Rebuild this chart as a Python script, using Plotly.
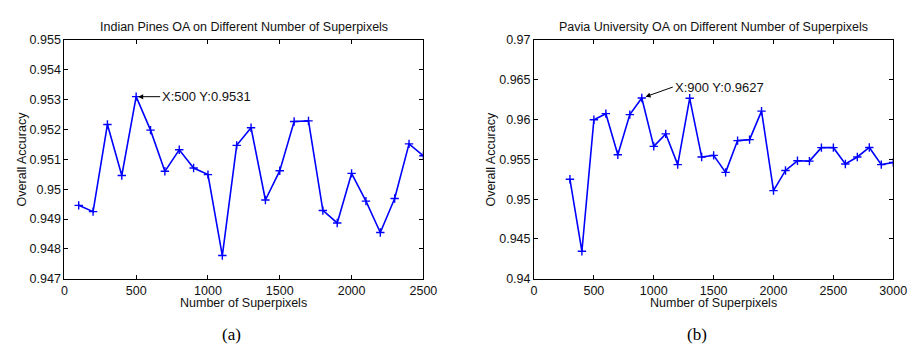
import plotly.graph_objects as go

# ---- data ----
ip_x = [100, 200, 300, 400, 500, 600, 700, 800, 900, 1000, 1100, 1200, 1300,
        1400, 1500, 1600, 1700, 1800, 1900, 2000, 2100, 2200, 2300, 2400, 2500]
ip_oa = [0.94946, 0.94925, 0.95217, 0.95046, 0.9531, 0.95198, 0.9506, 0.95132,
         0.95071, 0.95049, 0.94778, 0.95147, 0.95206, 0.94964, 0.95062, 0.95227,
         0.95229, 0.94929, 0.94887, 0.95053, 0.9496, 0.94855, 0.94969, 0.95152,
         0.95112]

pu_x = [300, 400, 500, 600, 700, 800, 900, 1000, 1100, 1200, 1300, 1400, 1500,
        1600, 1700, 1800, 1900, 2000, 2100, 2200, 2300, 2400, 2500, 2600, 2700,
        2800, 2900, 3000]
pu_oa = [0.9525, 0.94346, 0.95998, 0.96074, 0.95558, 0.96062, 0.9627, 0.95663,
         0.9582, 0.95434, 0.96267, 0.9553, 0.9555, 0.95337, 0.95736, 0.95748,
         0.96106, 0.95107, 0.95361, 0.95482, 0.95478, 0.95647, 0.95647, 0.95442,
         0.9553, 0.9565, 0.95434, 0.95461]

ip_yticks = [0.947, 0.948, 0.949, 0.95, 0.951, 0.952, 0.953, 0.954, 0.955]
ip_ytext = ["0.947", "0.948", "0.949", "0.95", "0.951", "0.952", "0.953", "0.954", "0.955"]
ip_xticks = [0, 500, 1000, 1500, 2000, 2500]

pu_yticks = [0.94, 0.945, 0.95, 0.955, 0.96, 0.965, 0.97]
pu_ytext = ["0.94", "0.945", "0.95", "0.955", "0.96", "0.965", "0.97"]
pu_xticks = [0, 500, 1000, 1500, 2000, 2500, 3000]

titles = ["Indian Pines OA on Different Number of Superpixels",
          "Pavia University OA on Different Number of Superpixels"]
xlabel = "Number of Superpixels"
ylabel = "Overall Accuracy"
sublabels = ["(a)", "(b)"]
ip_peak = (500, 0.9531)
pu_peak = (900, 0.9627)

# ---- figure ----
W, H = 921, 354
FONT = "Liberation Sans, Arial, Helvetica, sans-serif"
BLUE = "#0000ff"


def px(x):
    return x / W


def py(y):
    return 1 - y / H


fig = go.Figure()
line_style = dict(color=BLUE, width=1.6)
marker_style = dict(symbol="cross-thin", size=6, line=dict(color=BLUE, width=1.4), color=BLUE)

fig.add_trace(go.Scatter(x=ip_x, y=ip_oa, mode="lines+markers", line=line_style,
                         marker=marker_style, xaxis="x", yaxis="y", showlegend=False))
fig.add_trace(go.Scatter(x=pu_x, y=pu_oa, mode="lines+markers", line=line_style,
                         marker=marker_style, xaxis="x2", yaxis="y2", showlegend=False))

xd1 = [px(62.5), px(428.3)]
xd2 = [px(541), px(907)]
yd = [py(283), py(34.3)]

axis_common = dict(showline=True, linecolor="black", linewidth=1, mirror="ticks",
                   ticks="inside", ticklen=4, tickwidth=1, tickcolor="black",
                   showgrid=False, zeroline=False,
                   tickfont=dict(family=FONT, size=12.5, color="#111"))

fig.update_layout(
    width=W, height=H, autosize=False,
    margin=dict(l=0, r=0, t=0, b=0),
    paper_bgcolor="white", plot_bgcolor="white",
    xaxis=dict(domain=xd1, range=[0, 2500], tickvals=ip_xticks, anchor="y", **axis_common),
    yaxis=dict(domain=yd, range=[0.947, 0.955], tickvals=ip_yticks, ticktext=ip_ytext,
               anchor="x", **axis_common),
    xaxis2=dict(domain=xd2, range=[0, 3000], tickvals=pu_xticks, anchor="y2", **axis_common),
    yaxis2=dict(domain=yd, range=[0.94, 0.97], tickvals=pu_yticks, ticktext=pu_ytext,
                anchor="x2", **axis_common),
)

ann = []
tfont = dict(family=FONT, size=12.5, color="#111")
for xd, t in [(xd1, titles[0]), (xd2, titles[1])]:
    cx = (xd[0] + xd[1]) / 2
    ann.append(dict(text=t, x=cx, y=py(20.5), xref="paper", yref="paper",
                    showarrow=False, font=tfont, xanchor="center", yanchor="middle"))
    ann.append(dict(text=xlabel, x=cx, y=py(308), xref="paper", yref="paper",
                    showarrow=False, font=tfont, xanchor="center", yanchor="middle"))
ann.append(dict(text=ylabel, x=px(19), y=py(158), xref="paper", yref="paper",
                textangle=-90, showarrow=False, font=tfont, xanchor="center", yanchor="middle"))
ann.append(dict(text=ylabel, x=px(497), y=py(158), xref="paper", yref="paper",
                textangle=-90, showarrow=False, font=tfont, xanchor="center", yanchor="middle"))
sfont = dict(family="Liberation Serif, DejaVu Serif, serif", size=17, color="black")
ann.append(dict(text=sublabels[0], x=px(232.5), y=py(341), xref="paper", yref="paper",
                showarrow=False, font=sfont, xanchor="center", yanchor="middle"))
ann.append(dict(text=sublabels[1], x=px(707), y=py(341), xref="paper", yref="paper",
                showarrow=False, font=sfont, xanchor="center", yanchor="middle"))

# data-tip annotations
afont = dict(family=FONT, size=13, color="#111")
ann.append(dict(text="X:%d Y:%.4f" % ip_peak, x=ip_peak[0], y=ip_peak[1], xref="x", yref="y",
                showarrow=True, arrowhead=2, arrowsize=1, arrowwidth=1, arrowcolor="black",
                ax=24, ay=0, xanchor="left", yanchor="middle", standoff=2, font=afont))
ann.append(dict(text="X:%d Y:%.4f" % pu_peak, x=pu_peak[0], y=pu_peak[1], xref="x2", yref="y2",
                showarrow=True, arrowhead=2, arrowsize=1, arrowwidth=1, arrowcolor="black",
                ax=31, ay=-11, xanchor="left", yanchor="middle", standoff=4, font=afont))

fig.update_layout(annotations=ann)
fig.write_html("out.html")
